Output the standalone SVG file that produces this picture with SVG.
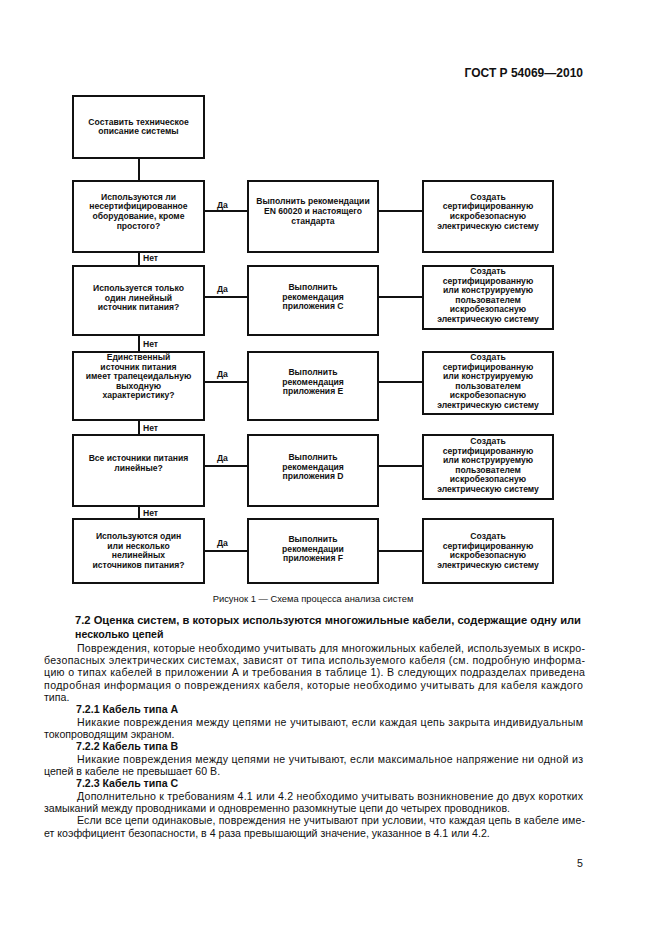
<svg xmlns="http://www.w3.org/2000/svg" width="661" height="936" viewBox="0 0 661 936">
<style>
.bx{fill:#fff;stroke:#111;stroke-width:2}
.ln{stroke:#111;stroke-width:2;fill:none}
.t{font-family:"Liberation Sans",Arial,sans-serif;font-size:8.6px;font-weight:bold;fill:#111;text-anchor:middle}
.lb{font-family:"Liberation Sans",Arial,sans-serif;font-size:8.6px;font-weight:bold;fill:#111}
.b{font-family:"Liberation Sans",Arial,sans-serif;font-size:10.6px;fill:#111}
.h{font-family:"Liberation Sans",Arial,sans-serif;font-size:10.6px;font-weight:bold;fill:#111}
.hd{font-family:"Liberation Sans",Arial,sans-serif;font-size:12px;font-weight:bold;fill:#111;text-anchor:end}
.cap{font-family:"Liberation Sans",Arial,sans-serif;font-size:9.4px;fill:#111;text-anchor:middle}
</style>
<rect width="661" height="936" fill="#fff"/>
<text class="hd" x="583" y="77">ГОСТ Р 54069—2010</text>

<g id="connectors">
<line class="ln" x1="139" y1="158" x2="139" y2="181"/>
<line class="ln" x1="139" y1="252" x2="139" y2="266"/>
<line class="ln" x1="139" y1="335" x2="139" y2="352"/>
<line class="ln" x1="139" y1="420" x2="139" y2="435"/>
<line class="ln" x1="139" y1="506" x2="139" y2="519"/>
<line class="ln" x1="204" y1="211" x2="248" y2="211"/>
<line class="ln" x1="378" y1="211" x2="423" y2="211"/>
<line class="ln" x1="204" y1="297" x2="248" y2="297"/>
<line class="ln" x1="378" y1="297" x2="423" y2="297"/>
<line class="ln" x1="204" y1="382" x2="248" y2="382"/>
<line class="ln" x1="378" y1="382" x2="423" y2="382"/>
<line class="ln" x1="204" y1="466" x2="248" y2="466"/>
<line class="ln" x1="378" y1="466" x2="423" y2="466"/>
<line class="ln" x1="204" y1="551" x2="248" y2="551"/>
<line class="ln" x1="378" y1="551" x2="423" y2="551"/>
<text class="lb" x="217" y="208">Да</text>
<text class="lb" x="217" y="292">Да</text>
<text class="lb" x="217" y="377">Да</text>
<text class="lb" x="217" y="461">Да</text>
<text class="lb" x="217" y="546">Да</text>
<text class="lb" x="143" y="261">Нет</text>
<text class="lb" x="143" y="347">Нет</text>
<text class="lb" x="143" y="431">Нет</text>
<text class="lb" x="143" y="516">Нет</text>
</g>

<g id="start">
<rect class="bx" x="73" y="96" width="131" height="62"/>
<text class="t" x="138.5" y="124.5">Составить техническое</text>
<text class="t" x="138.5" y="133.5">описание системы</text>
</g>

<g id="q1">
<rect class="bx" x="73" y="181" width="131" height="71"/>
<text class="t" x="138.5" y="199.5">Используются ли</text>
<text class="t" x="138.5" y="209.3">несертифицированное</text>
<text class="t" x="138.5" y="219.1">оборудование, кроме</text>
<text class="t" x="138.5" y="228.9">простого?</text>
</g>
<g id="a1">
<rect class="bx" x="248" y="181" width="130" height="71"/>
<text class="t" x="313" y="204">Выполнить рекомендации</text>
<text class="t" x="313" y="214">EN 60020 и настоящего</text>
<text class="t" x="313" y="224">стандарта</text>
</g>
<g id="r1">
<rect class="bx" x="423" y="181" width="130" height="71"/>
<text class="t" x="488" y="199.5">Создать</text>
<text class="t" x="488" y="209.3">сертифицированную</text>
<text class="t" x="488" y="219.1">искробезопасную</text>
<text class="t" x="488" y="228.9">электрическую систему</text>
</g>

<g id="q2">
<rect class="bx" x="73" y="266" width="131" height="69"/>
<text class="t" x="138.5" y="291">Используется только</text>
<text class="t" x="138.5" y="300.5">один линейный</text>
<text class="t" x="138.5" y="310">источник питания?</text>
</g>
<g id="a2">
<rect class="bx" x="248" y="266" width="130" height="69"/>
<text class="t" x="313" y="290">Выполнить</text>
<text class="t" x="313" y="299.5">рекомендация</text>
<text class="t" x="313" y="309">приложения С</text>
</g>
<g id="r2">
<rect class="bx" x="423" y="266" width="130" height="63"/>
<text class="t" x="488" y="274">Создать</text>
<text class="t" x="488" y="283.5">сертифицированную</text>
<text class="t" x="488" y="293">или конструируемую</text>
<text class="t" x="488" y="302.5">пользователем</text>
<text class="t" x="488" y="312">искробезопасную</text>
<text class="t" x="488" y="321.5">электрическую систему</text>
</g>

<g id="q3">
<rect class="bx" x="73" y="352" width="131" height="68"/>
<text class="t" x="138.5" y="360">Единственный</text>
<text class="t" x="138.5" y="369.5">источник питания</text>
<text class="t" x="138.5" y="379">имеет трапецеидальную</text>
<text class="t" x="138.5" y="388.5">выходную</text>
<text class="t" x="138.5" y="398">характеристику?</text>
</g>
<g id="a3">
<rect class="bx" x="248" y="352" width="130" height="68"/>
<text class="t" x="313" y="375">Выполнить</text>
<text class="t" x="313" y="384.5">рекомендация</text>
<text class="t" x="313" y="394">приложения Е</text>
</g>
<g id="r3">
<rect class="bx" x="423" y="352" width="130" height="62"/>
<text class="t" x="488" y="360">Создать</text>
<text class="t" x="488" y="369.5">сертифицированную</text>
<text class="t" x="488" y="379">или конструируемую</text>
<text class="t" x="488" y="388.5">пользователем</text>
<text class="t" x="488" y="398">искробезопасную</text>
<text class="t" x="488" y="407.5">электрическую систему</text>
</g>

<g id="q4">
<rect class="bx" x="73" y="435" width="131" height="71"/>
<text class="t" x="138.5" y="461">Все источники питания</text>
<text class="t" x="138.5" y="471">линейные?</text>
</g>
<g id="a4">
<rect class="bx" x="248" y="435" width="130" height="71"/>
<text class="t" x="313" y="460">Выполнить</text>
<text class="t" x="313" y="469.5">рекомендация</text>
<text class="t" x="313" y="479">приложения D</text>
</g>
<g id="r4">
<rect class="bx" x="423" y="435" width="130" height="64"/>
<text class="t" x="488" y="444">Создать</text>
<text class="t" x="488" y="453.5">сертифицированную</text>
<text class="t" x="488" y="463">или конструируемую</text>
<text class="t" x="488" y="472.5">пользователем</text>
<text class="t" x="488" y="482">искробезопасную</text>
<text class="t" x="488" y="491.5">электрическую систему</text>
</g>

<g id="q5">
<rect class="bx" x="73" y="519" width="131" height="64"/>
<text class="t" x="138.5" y="539">Используются один</text>
<text class="t" x="138.5" y="548.7">или несколько</text>
<text class="t" x="138.5" y="558.4">нелинейных</text>
<text class="t" x="138.5" y="568">источников питания?</text>
</g>
<g id="a5">
<rect class="bx" x="248" y="519" width="130" height="64"/>
<text class="t" x="313" y="542">Выполнить</text>
<text class="t" x="313" y="551.7">рекомендации</text>
<text class="t" x="313" y="561.4">приложения F</text>
</g>
<g id="r5">
<rect class="bx" x="423" y="519" width="130" height="64"/>
<text class="t" x="488" y="539">Создать</text>
<text class="t" x="488" y="548.7">сертифицированную</text>
<text class="t" x="488" y="558.4">искробезопасную</text>
<text class="t" x="488" y="568">электрическую систему</text>
</g>

<text class="cap" x="313" y="602">Рисунок 1 — Схема процесса анализа систем</text>

<text class="h" x="75" y="624" textLength="506" lengthAdjust="spacingAndGlyphs">7.2  Оценка систем, в которых используются многожильные кабели, содержащие одну или</text>
<text class="h" x="75" y="637.5">несколько цепей</text>
<text class="b" x="77" y="651.5" textLength="508" lengthAdjust="spacing">Повреждения, которые необходимо учитывать для многожильных кабелей, используемых в искро-</text>
<text class="b" x="44" y="663.8" textLength="541" lengthAdjust="spacing">безопасных электрических системах, зависят от типа используемого кабеля (см. подробную информа-</text>
<text class="b" x="44" y="676.2" textLength="541" lengthAdjust="spacing">цию о типах кабелей в приложении А и требования в таблице 1). В следующих подразделах приведена</text>
<text class="b" x="44" y="688.5" textLength="539" lengthAdjust="spacing">подробная информация о повреждениях кабеля, которые необходимо учитывать для кабеля каждого</text>
<text class="b" x="44" y="700.8">типа.</text>
<text class="h" x="76" y="713.2">7.2.1  Кабель типа А</text>
<text class="b" x="77" y="725.5" textLength="506" lengthAdjust="spacing">Никакие повреждения между цепями не учитывают, если каждая цепь закрыта индивидуальным</text>
<text class="b" x="44" y="737.8">токопроводящим экраном.</text>
<text class="h" x="76" y="750.2">7.2.2  Кабель типа В</text>
<text class="b" x="77" y="762.5" textLength="506" lengthAdjust="spacing">Никакие повреждения между цепями не учитывают, если максимальное напряжение ни одной из</text>
<text class="b" x="44" y="774.8">цепей в кабеле не превышает 60 В.</text>
<text class="h" x="76" y="787.2">7.2.3  Кабель типа С</text>
<text class="b" x="77" y="799.5" textLength="506" lengthAdjust="spacing">Дополнительно к требованиям 4.1 или 4.2 необходимо учитывать возникновение до двух коротких</text>
<text class="b" x="44" y="811.8">замыканий между проводниками и одновременно разомкнутые цепи до четырех проводников.</text>
<text class="b" x="77" y="824.2" textLength="508" lengthAdjust="spacing">Если все цепи одинаковые, повреждения не учитывают при условии, что каждая цепь в кабеле име-</text>
<text class="b" x="44" y="836.5">ет коэффициент безопасности, в 4 раза превышающий значение, указанное в 4.1 или 4.2.</text>
<text class="b" x="583" y="867" text-anchor="end">5</text>
</svg>
